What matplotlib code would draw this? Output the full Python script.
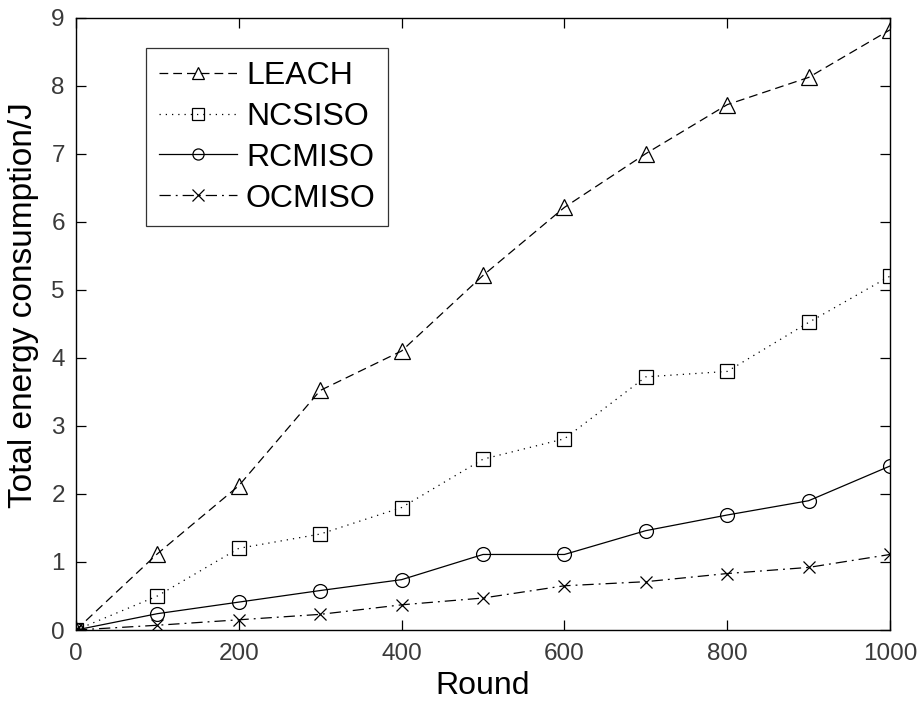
import numpy as np
import matplotlib
matplotlib.use("Agg")
import matplotlib.pyplot as plt

plt.rcParams['font.family'] = ['Liberation Sans', 'DejaVu Sans']

# data
rounds = [0, 100, 200, 300, 400, 500, 600, 700, 800, 900, 1000]
leach = [0, 1.12, 2.12, 3.52, 4.1, 5.21, 6.21, 7.0, 7.72, 8.12, 8.82]
ncsiso = [0, 0.5, 1.2, 1.41, 1.8, 2.51, 2.81, 3.72, 3.8, 4.52, 5.2]
rcmiso = [0, 0.24, 0.41, 0.58, 0.74, 1.11, 1.11, 1.46, 1.69, 1.9, 2.41]
ocmiso = [0, 0.07, 0.15, 0.23, 0.37, 0.47, 0.65, 0.71, 0.83, 0.92, 1.11]

series = [
    ("LEACH", leach, "^", (0, (7, 4)), 12),
    ("NCSISO", ncsiso, "s", (0, (1, 4)), 10),
    ("RCMISO", rcmiso, "o", "-", 10),
    ("OCMISO", ocmiso, "x", (0, (9, 4, 1.5, 4)), 9),
]

fig = plt.figure(figsize=(9.23, 7.04), dpi=100)
ax = fig.add_axes([0.0823, 0.1051, 0.8820, 0.8700])

for name, vals, mk, ls, ms in series:
    ax.plot(rounds, vals, color="black", linestyle=ls, linewidth=0.9,
            marker=mk, markersize=ms, markerfacecolor="none",
            markeredgecolor="black", markeredgewidth=0.9, label=name)

ax.set_xlim(0, 1000)
ax.set_ylim(0, 9)
ax.set_xticks(np.arange(0, 1001, 200))
ax.set_yticks(np.arange(0, 10, 1))
ax.tick_params(direction="in", length=7, width=0.9, top=True, right=True,
               labelsize=17.5, labelcolor="#3a3a3a")
ax.tick_params(axis="x", pad=9)
ax.tick_params(axis="y", pad=8)
for sp in ax.spines.values():
    sp.set_linewidth(1.0)

ax.set_xlabel("Round", fontsize=23)
ax.xaxis.set_label_coords(0.5, -0.067)
ax.set_ylabel("Total energy consumption/J", fontsize=24)
ax.yaxis.set_label_coords(-0.046, 0.53)

leg = ax.legend(loc="upper left", bbox_to_anchor=(0.086, 0.95), fontsize=23,
                frameon=True, fancybox=False, edgecolor="black",
                handlelength=2.45, handletextpad=0.28, labelspacing=0.34,
                borderpad=0.4, borderaxespad=0, numpoints=1)
leg.get_frame().set_linewidth(0.9)
for h in leg.legend_handles:
    h.set_markersize(8)

fig.savefig("out.png", dpi=100)
